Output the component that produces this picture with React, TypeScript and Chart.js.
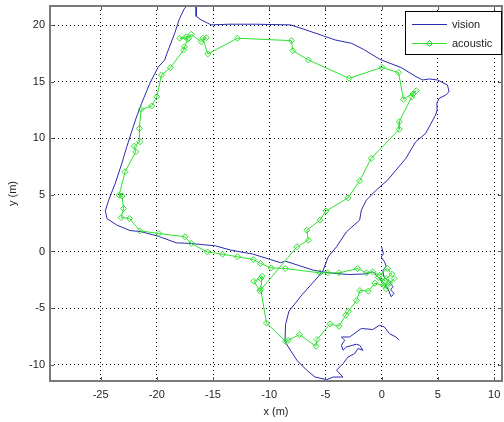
import React, { useEffect, useRef } from 'react';
import { Chart, registerables } from 'chart.js';

Chart.register(...registerables);

// Axis ranges and tick labels
const xRange = [-29.5, 10.7];
const yRange = [-11.45, 21.7];
const xTicks = [-25, -20, -15, -10, -5, 0, 5, 10];
const yTicks = [-10, -5, 0, 5, 10, 15, 20];

// Series names
const seriesNames = ['vision', 'acoustic'];

// Vision trajectory (x, y in metres)
const visionX = [
  0.0, 0.15, -0.05, 0.25, 0.4, 0.1, 0.2, 0.7, 1.0, 0.8, 1.1, 0.85, 0.6, 0.3, -0.1, -0.5, -0.8,
  -1.35, -2.96, -4.61, -5.6, -6.08, -8.55, -9.01, -9.89, -11.5, -12.6, -13.42, -14.8, -15.9, -16.94,
  -18.26, -19.88, -21.4, -22.38, -23.55, -24.43, -24.58, -24.28, -23.7, -23.11, -22.67, -22.3, -21.85,
  -21.35, -20.62, -19.88, -19.3, -19.15, -18.41, -17.97, -17.53, -17.2, -16.65, -16.5, -16.5, -16.06,
  -15.47, -15.18, -13.57, -11.22, -8.1, -6.93, -5.16, -4.14, -2.67, -1.64, -0.18, 1.74, 3.06, 3.65,
  4.23, 4.97, 5.85, 5.99, 5.7, 5.11, 4.91, 4.93, 4.79, 3.91, 3.03, 2.15, 1.27, 0.53, -0.49, -1.37,
  -1.81, -1.96, -3.14, -4.02, -4.76, -5.2, -5.75, -7.07, -8.25, -8.55, -8.6, -8.25, -7.54, -6.66,
  -5.93, -4.9, -4.32, -3.44, -4.02, -3.44, -3.0, -2.41, -2.11, -1.67, -1.96, -2.26, -3.14, -3.44,
  -3.58, -3.29, -3.58, -2.85, -1.81, -0.79, -0.2, 0.24, 0.68, 1.27, 1.56,
];
const visionY = [
  0.4, -0.2, -0.5, -0.9, -1.3, -1.7, -2.25, -2.7, -3.1, -3.4, -3.7, -4.0, -3.4, -2.9, -2.5, -2.1, -1.8,
  -1.98, -2.04, -1.89, -1.74, -1.65, -0.86, -1.0, -0.71, -0.22, -0.03, 0.12, 0.5, 0.6, 0.71,
  0.76, 1.35, 1.75, 1.85, 2.33, 2.9, 3.6, 4.54, 6.02, 7.79, 9.26, 10.4, 11.77,
  13.1, 14.87, 16.3, 16.93, 17.37, 19.29, 20.62, 21.5, 21.8, 21.8, 21.65, 20.8, 20.47,
  20.18, 20.03, 20.09, 20.09, 20.03, 19.65, 19.05, 18.7, 18.4, 17.88, 16.99, 16.25, 15.45, 15.16,
  15.25, 15.16, 14.72, 14.12, 13.83, 13.54, 13.1, 12.5, 12.06, 10.44, 9.7, 8.23, 7.19, 6.31, 5.42, 4.54,
  3.65, 2.77, 1.73, 0.41, -0.48, -1.65, -2.34, -3.81, -5.28, -6.46, -7.94, -8.53, -9.62, -10.5,
  -11.1, -11.33, -11.1, -11.1, -10.5, -9.91, -9.33, -9.03, -8.58, -8.73, -8.29, -8.2, -8.44, -8.73,
  -8.29, -7.85, -7.56, -7.56, -6.81, -6.9, -6.52, -6.67, -7.26, -7.56, -7.85,
];

// Acoustic trajectory (x, y in metres)
const acousticX = [
  0.4, 0.9, 0.5, -0.2, -0.8, -1.35, -2.14, -3.79, -4.78, -5.49, -8.57, -9.83, -10.78, -11.42, -12.83,
  -14.15, -15.5, -16.94, -17.5, -19.82, -21.5, -22.43, -23.17, -22.96, -23.1, -23.35, -22.82, -21.88,
  -22.0, -21.5, -21.55, -21.4, -20.46, -20.0, -19.59, -18.79, -17.62, -17.53, -17.24, -17.97, -17.39,
  -17.15, -16.94, -16.06, -15.6, -15.9, -15.47, -12.83, -8.04, -7.9, -6.52, -2.9, 0.03, 1.5, 1.94,
  3.08, 2.79, 2.68, 1.56, 1.56, -0.93, -1.96, -2.99, -4.96, -5.49, -6.66, -6.52, -7.54, -10.84, -11.37,
  -10.78, -10.63, -10.75, -10.25, -8.55, -8.31, -7.31, -5.84, -5.75, -4.58, -3.79, -3.2, -2.96, -2.23,
  -1.94, -1.2, -0.6, 0.2, 0.7, 1.1, 0.4, -0.3, 0.3,
];
const acousticY = [
  -2.4, -2.0, -1.5, -2.1, -1.8, -1.89, -1.51, -1.89, -1.89, -1.89, -1.51, -1.45, -1.06, -0.71, -0.47,
  -0.24, -0.05, 0.71, 1.3, 1.59, 1.82, 2.92, 3.0, 3.8, 4.9, 4.98, 7.05, 8.81,
  9.32, 9.7, 10.88, 12.55, 12.86, 13.68, 15.6, 16.25, 17.8, 18.1, 18.76, 18.85, 18.99,
  18.9, 19.2, 18.55, 18.9, 18.85, 17.46, 18.85, 18.64, 17.75, 16.93, 15.31, 16.28, 15.81, 13.45,
  14.21, 13.92, 13.68, 11.47, 10.8, 8.23, 6.25, 4.74, 3.57, 2.77, 1.88, 1.0, 0.41, -3.49, -2.63,
  -2.39, -2.19, -3.36, -6.32, -7.94, -7.85, -7.35, -8.38, -7.79, -6.4, -6.61, -5.64, -5.28, -4.34,
  -3.45, -3.5, -2.8, -3.0, -2.8, -2.4, -3.3, -2.3, -2.6,
];

const BLUE = '#2a2ab0';
const GREEN = '#2ee02e';
const FONT = 'Liberation Sans, Arial, sans-serif';
const TEXT = '#222';

const toPoints = (xs: number[], ys: number[]) => xs.map((x, i) => ({ x, y: ys[i] }));

const framePlugin = {
  id: 'matlabFrame',
  afterDraw(chart: any) {
    const { ctx, chartArea: a, scales } = chart;
    ctx.save();
    // inner tick marks on all four sides
    ctx.strokeStyle = '#555';
    ctx.lineWidth = 1;
    const tl = 4;
    xTicks.forEach((v) => {
      const px = Math.round(scales.x.getPixelForValue(v)) + 0.5;
      ctx.beginPath();
      ctx.moveTo(px, a.bottom);
      ctx.lineTo(px, a.bottom - tl);
      ctx.moveTo(px, a.top);
      ctx.lineTo(px, a.top + tl);
      ctx.stroke();
    });
    yTicks.forEach((v) => {
      const py = Math.round(scales.y.getPixelForValue(v)) + 0.5;
      ctx.beginPath();
      ctx.moveTo(a.left, py);
      ctx.lineTo(a.left + tl, py);
      ctx.moveTo(a.right, py);
      ctx.lineTo(a.right - tl, py);
      ctx.stroke();
    });
    // box
    ctx.strokeStyle = '#7a7a7a';
    ctx.lineWidth = 2;
    ctx.strokeRect(a.left, a.top, a.right - a.left, a.bottom - a.top);

    // legend
    const lx = 405.5, ly = 11.5, lw = 96, lh = 43;
    ctx.fillStyle = '#fff';
    ctx.fillRect(lx, ly, lw, lh);
    ctx.strokeStyle = '#000';
    ctx.lineWidth = 1;
    ctx.strokeRect(lx, ly, lw, lh);
    const rows = [
      { y: 24, color: BLUE, marker: false },
      { y: 43, color: GREEN, marker: true },
    ];
    ctx.font = `11px ${FONT}`;
    ctx.textBaseline = 'middle';
    ctx.textAlign = 'left';
    rows.forEach((r, i) => {
      ctx.strokeStyle = r.color;
      ctx.lineWidth = 1;
      ctx.beginPath();
      ctx.moveTo(412, r.y + 0.5);
      ctx.lineTo(447, r.y + 0.5);
      ctx.stroke();
      if (r.marker) {
        const cx = 429.5, cy = r.y + 0.5, rr = 3;
        ctx.beginPath();
        ctx.moveTo(cx, cy - rr);
        ctx.lineTo(cx + rr, cy);
        ctx.lineTo(cx, cy + rr);
        ctx.lineTo(cx - rr, cy);
        ctx.closePath();
        ctx.stroke();
      }
      ctx.fillStyle = TEXT;
      ctx.fillText(seriesNames[i], 452, r.y + 1);
    });
    ctx.restore();
  },
};

export default function App() {
  const ref = useRef<HTMLCanvasElement | null>(null);

  useEffect(() => {
    if (!ref.current) return;
    const tickFont = { family: FONT, size: 11 };
    const chart = new Chart(ref.current, {
      type: 'scatter',
      data: {
        datasets: [
          {
            label: seriesNames[0],
            data: toPoints(visionX, visionY),
            showLine: true,
            borderColor: BLUE,
            borderWidth: 1,
            pointRadius: 0,
            tension: 0,
            order: 1,
          },
          {
            label: seriesNames[1],
            data: toPoints(acousticX, acousticY),
            showLine: true,
            borderColor: GREEN,
            borderWidth: 1,
            pointStyle: 'rectRot',
            pointRadius: 3,
            pointBorderColor: GREEN,
            pointBackgroundColor: 'rgba(0,0,0,0)',
            pointBorderWidth: 1,
            tension: 0,
            order: 0,
          },
        ],
      },
      options: {
        animation: false,
        responsive: false,
        events: [],
        layout: { autoPadding: false, padding: { top: 6, right: 2, left: 0, bottom: 0 } },
        plugins: { legend: { display: false }, tooltip: { enabled: false } },
        scales: {
          x: {
            type: 'linear',
            min: xRange[0],
            max: xRange[1],
            afterBuildTicks: (s: any) => {
              s.ticks = xTicks.map((v) => ({ value: v }));
            },
            afterFit: (s: any) => {
              s.height = 41;
              s.paddingLeft = 0;
              s.paddingRight = 0;
            },
            grid: { color: '#000', lineWidth: 1, drawTicks: false },
            border: { display: false, dash: [1, 3] },
            ticks: { padding: 7, color: TEXT, font: tickFont, maxRotation: 0, autoSkip: false },
            title: { display: true, text: 'x (m)', color: TEXT, font: tickFont, padding: { top: 0, bottom: 3 } },
          },
          y: {
            type: 'linear',
            min: yRange[0],
            max: yRange[1],
            afterBuildTicks: (s: any) => {
              s.ticks = yTicks.map((v) => ({ value: v }));
            },
            afterFit: (s: any) => {
              s.width = 50;
              s.paddingTop = 0;
              s.paddingBottom = 0;
            },
            grid: { color: '#000', lineWidth: 1, drawTicks: false },
            border: { display: false, dash: [1, 3] },
            ticks: { padding: 5, color: TEXT, font: tickFont, autoSkip: false },
            title: { display: true, text: 'y (m)', color: TEXT, font: tickFont, padding: { top: 6, bottom: 0 } },
          },
        },
      },
      plugins: [framePlugin],
    } as any);
    return () => chart.destroy();
  }, []);

  return (
    <div style={{ position: 'fixed', left: 0, top: 0, width: 504, height: 422, background: '#fff' }}>
      <canvas ref={ref} width={504} height={422} />
    </div>
  );
}
